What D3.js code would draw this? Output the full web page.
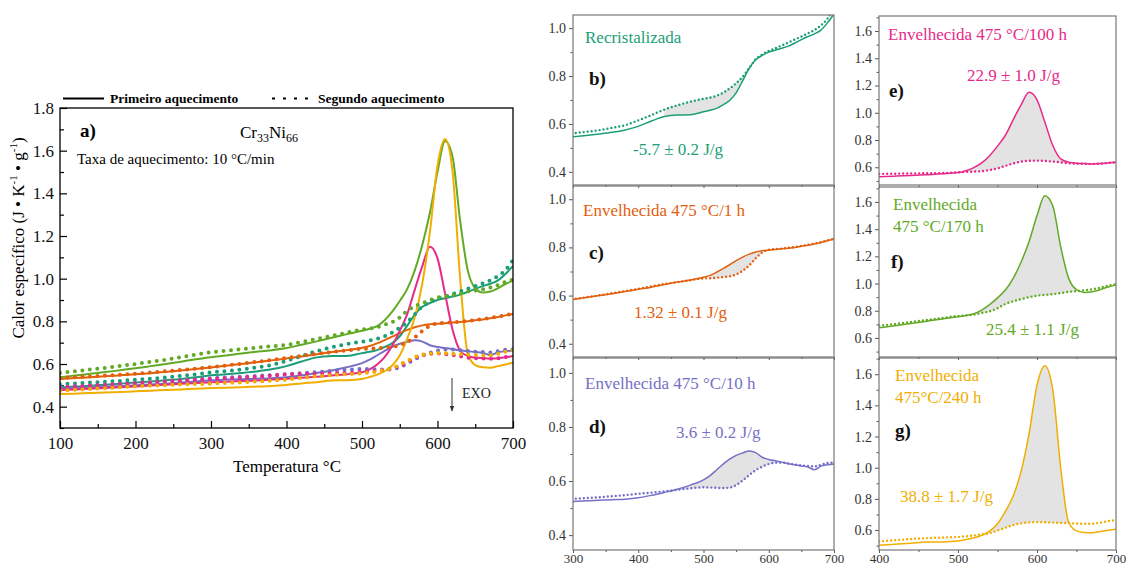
<!DOCTYPE html>
<html>
<head>
<meta charset="utf-8">
<script src="https://cdn.jsdelivr.net/npm/d3@7"></script>
<style>
  body { margin: 0; background: #fff; }
  svg { display: block; }
  text { font-family: "Liberation Serif", "Times New Roman", serif; }
</style>
</head>
<body>
<svg id="chart" width="1129" height="567"></svg>
<script>
// Temperature grid (°C) shared by every DSC trace
const temps = [100,120,140,160,180,200,220,240,260,280,300,320,340,360,380,400,420,440,460,480,
               500,510,520,530,540,550,560,570,580,590,600,610,620,630,640,650,660,670,680,690,700];

// Specific heat (J K^-1 g^-1): first heating (…1) and second heating (…2) for each condition
const recrist1 = [0.490,0.494,0.498,0.503,0.508,0.513,0.518,0.524,0.530,0.538,0.547,0.552,0.558,0.565,0.575,0.590,0.612,0.631,0.637,0.638,
                  0.651,0.657,0.665,0.680,0.698,0.730,0.780,0.832,0.868,0.886,0.900,0.908,0.916,0.925,0.938,0.952,0.965,0.976,0.992,1.022,1.060];
const recrist2 = [0.505,0.509,0.513,0.517,0.521,0.526,0.531,0.537,0.544,0.552,0.561,0.567,0.574,0.584,0.595,0.615,0.637,0.660,0.678,0.693,
                  0.705,0.710,0.718,0.730,0.748,0.770,0.797,0.833,0.870,0.890,0.905,0.916,0.928,0.940,0.953,0.965,0.978,0.992,1.012,1.040,1.088];
const aged1h1 = [0.530,0.534,0.538,0.542,0.547,0.552,0.557,0.563,0.569,0.576,0.584,0.592,0.600,0.608,0.617,0.626,0.635,0.646,0.656,0.665,
                 0.676,0.684,0.697,0.712,0.728,0.745,0.760,0.772,0.781,0.786,0.789,0.791,0.794,0.797,0.800,0.805,0.809,0.814,0.820,0.828,0.835];
const aged1h2 = [0.535,0.538,0.542,0.546,0.550,0.555,0.560,0.566,0.572,0.578,0.585,0.593,0.601,0.610,0.619,0.628,0.638,0.648,0.656,0.664,
                 0.671,0.672,0.674,0.677,0.680,0.688,0.703,0.725,0.755,0.779,0.790,0.793,0.795,0.798,0.802,0.806,0.811,0.816,0.822,0.829,0.836];
const aged10h1 = [0.484,0.487,0.490,0.493,0.497,0.500,0.504,0.508,0.513,0.518,0.524,0.527,0.529,0.531,0.533,0.538,0.547,0.558,0.570,0.585,
                  0.604,0.620,0.641,0.662,0.681,0.695,0.704,0.711,0.705,0.688,0.680,0.675,0.670,0.664,0.660,0.656,0.652,0.642,0.655,0.660,0.663];
const aged10h2 = [0.494,0.497,0.500,0.503,0.507,0.510,0.514,0.518,0.523,0.528,0.534,0.537,0.540,0.544,0.548,0.553,0.557,0.562,0.568,0.573,
                  0.577,0.576,0.575,0.574,0.576,0.585,0.602,0.622,0.640,0.653,0.663,0.668,0.668,0.665,0.661,0.658,0.656,0.654,0.660,0.667,0.668];
const aged100h1 = [0.478,0.481,0.484,0.487,0.491,0.495,0.499,0.503,0.507,0.511,0.515,0.517,0.520,0.523,0.527,0.531,0.535,0.540,0.546,0.552,
                   0.561,0.575,0.598,0.632,0.685,0.755,0.835,0.950,1.060,1.150,1.095,0.930,0.760,0.662,0.638,0.630,0.627,0.625,0.627,0.632,0.637];
const aged100h2 = [0.490,0.494,0.498,0.502,0.506,0.510,0.514,0.518,0.522,0.526,0.530,0.533,0.536,0.540,0.545,0.551,0.553,0.555,0.556,0.558,
                   0.563,0.566,0.568,0.572,0.580,0.592,0.610,0.628,0.642,0.648,0.649,0.646,0.642,0.636,0.630,0.627,0.626,0.625,0.627,0.632,0.637];
const aged170h1 = [0.538,0.546,0.554,0.562,0.571,0.580,0.590,0.600,0.611,0.622,0.632,0.640,0.649,0.657,0.665,0.675,0.690,0.706,0.723,0.740,
                   0.756,0.765,0.778,0.805,0.845,0.895,0.952,1.040,1.160,1.310,1.500,1.645,1.570,1.270,1.040,0.955,0.935,0.940,0.955,0.975,0.990];
const aged170h2 = [0.558,0.566,0.574,0.582,0.591,0.600,0.610,0.620,0.632,0.644,0.655,0.662,0.669,0.676,0.683,0.690,0.703,0.717,0.732,0.747,
                   0.762,0.766,0.772,0.784,0.796,0.818,0.850,0.870,0.885,0.900,0.911,0.917,0.922,0.930,0.939,0.944,0.950,0.958,0.970,0.985,0.995];
const aged240h1 = [0.459,0.461,0.464,0.466,0.469,0.472,0.475,0.478,0.481,0.484,0.487,0.489,0.491,0.494,0.497,0.502,0.509,0.515,0.523,0.524,
                   0.530,0.539,0.550,0.566,0.593,0.640,0.720,0.820,0.980,1.220,1.530,1.655,1.500,1.000,0.650,0.595,0.585,0.583,0.590,0.598,0.606];
const aged240h2 = [0.475,0.479,0.483,0.487,0.491,0.495,0.498,0.501,0.504,0.506,0.508,0.511,0.514,0.518,0.522,0.527,0.535,0.542,0.548,0.552,
                   0.556,0.560,0.565,0.572,0.580,0.597,0.615,0.632,0.644,0.649,0.651,0.650,0.648,0.646,0.644,0.642,0.640,0.641,0.648,0.657,0.663];

// Condition labels, enthalpy labels and integration windows (°C)
const conditionLabels = [["Recristalizada"], ["Envelhecida 475 °C/1 h"], ["Envelhecida 475 °C/10 h"],
                         ["Envelhecida 475 °C/100 h"], ["Envelhecida", "475 °C/170 h"], ["Envelhecida", "475°C/240 h"]];
const enthalpyLabels = ["-5.7 ± 0.2 J/g", "1.32 ± 0.1 J/g", "3.6 ± 0.2 J/g", "22.9 ± 1.0 J/g", "25.4 ± 1.1 J/g", "38.8 ± 1.7 J/g"];
const panelLetters = ["b)", "c)", "d)", "e)", "f)", "g)"];
const peakWindows = [[430, 575], [505, 590], [460, 610], [505, 650], [460, 655], [525, 640]];
const colors = ["#1b9e77", "#e2600c", "#7570c6", "#e7298a", "#62a925", "#f0ae00"];

const firstHeating = [recrist1, aged1h1, aged10h1, aged100h1, aged170h1, aged240h1];
const secondHeating = [recrist2, aged1h2, aged10h2, aged100h2, aged170h2, aged240h2];

const series = colors.map((c, i) => ({
  color: c,
  first: temps.map((t, k) => ({ t, v: firstHeating[i][k] })),
  second: temps.map((t, k) => ({ t, v: secondHeating[i][k] }))
}));

const svg = d3.select("#chart");
const SERIF = '"Liberation Serif", "Times New Roman", serif';

// ---------- Panel a: all traces ----------
const A = { left: 60, right: 513, top: 108, bottom: 428 };
const xA = d3.scaleLinear().domain([100, 700]).range([A.left, A.right]);
const yA = d3.scaleLinear().domain([0.3, 1.8]).range([A.bottom, A.top]);

const gA = svg.append("g");
gA.append("clipPath").attr("id", "clipA").append("rect")
  .attr("x", A.left).attr("y", A.top).attr("width", A.right - A.left).attr("height", A.bottom - A.top);

// inward ticks
const axBotMinor = d3.axisBottom(xA).tickValues(d3.range(150, 700, 100)).tickSize(-4).tickFormat("");
const axBotMajor = d3.axisBottom(xA).tickValues(d3.range(100, 701, 100)).tickSize(-7).tickPadding(9).tickFormat(d3.format("d"));
const axLeftMinor = d3.axisLeft(yA).tickValues(d3.range(0.3, 1.75, 0.2)).tickSize(-4).tickFormat("");
const axLeftMajor = d3.axisLeft(yA).tickValues(d3.range(0.4, 1.81, 0.2)).tickSize(-7).tickPadding(6).tickFormat(d3.format(".1f"));

[axBotMinor, axBotMajor].forEach(ax => {
  const g = gA.append("g").attr("transform", `translate(0,${A.bottom})`).call(ax);
  g.select(".domain").remove();
  g.selectAll("line").attr("stroke", "#000").attr("stroke-width", 1.2);
  g.selectAll("text").attr("font-size", 17).attr("font-family", SERIF).attr("fill", "#111");
});
[axLeftMinor, axLeftMajor].forEach(ax => {
  const g = gA.append("g").attr("transform", `translate(${A.left},0)`).call(ax);
  g.select(".domain").remove();
  g.selectAll("line").attr("stroke", "#000").attr("stroke-width", 1.2);
  g.selectAll("text").attr("font-size", 17).attr("font-family", SERIF).attr("fill", "#111");
});

const lineA = d3.line().x(d => xA(d.t)).y(d => yA(d.v)).curve(d3.curveMonotoneX);
const tracesA = gA.append("g").attr("clip-path", "url(#clipA)");
series.forEach(s => {
  tracesA.append("path").datum(s.first).attr("d", lineA)
    .attr("fill", "none").attr("stroke", s.color).attr("stroke-width", 2);
});
series.forEach(s => {
  tracesA.append("path").datum(s.second).attr("d", lineA)
    .attr("fill", "none").attr("stroke", s.color).attr("stroke-width", 4)
    .attr("stroke-linecap", "round").attr("stroke-dasharray", "0,7.5");
});

gA.append("rect").attr("x", A.left).attr("y", A.top)
  .attr("width", A.right - A.left).attr("height", A.bottom - A.top)
  .attr("fill", "none").attr("stroke", "#000").attr("stroke-width", 1.3);

// legend
gA.append("line").attr("x1", 63).attr("x2", 104).attr("y1", 98.5).attr("y2", 98.5)
  .attr("stroke", "#000").attr("stroke-width", 2);
gA.append("text").attr("x", 110).attr("y", 103).attr("font-size", 13.5).attr("font-weight", "bold")
  .text("Primeiro aquecimento");
gA.append("line").attr("x1", 272).attr("x2", 312).attr("y1", 98.5).attr("y2", 98.5)
  .attr("stroke", "#000").attr("stroke-width", 2.2).attr("stroke-dasharray", "3,8");
gA.append("text").attr("x", 318).attr("y", 103).attr("font-size", 13.5).attr("font-weight", "bold")
  .text("Segundo aquecimento");

// annotations
gA.append("text").attr("x", 80).attr("y", 137).attr("font-size", 19).attr("font-weight", "bold").text("a)");
const cr = gA.append("text").attr("x", 240).attr("y", 138).attr("font-size", 17);
cr.append("tspan").text("Cr");
cr.append("tspan").attr("font-size", 12).attr("dy", 4).text("33");
cr.append("tspan").attr("dy", -4).text("Ni");
cr.append("tspan").attr("font-size", 12).attr("dy", 4).text("66");
gA.append("text").attr("x", 77).attr("y", 164).attr("font-size", 15).text("Taxa de aquecimento: 10 °C/min");

// EXO arrow
const defs = svg.append("defs");
defs.append("marker").attr("id", "arrowHead").attr("viewBox", "0 0 10 10")
  .attr("refX", 9).attr("refY", 5).attr("markerWidth", 6).attr("markerHeight", 7)
  .attr("orient", "auto").append("path").attr("d", "M0,1 L10,5 L0,9 Z").attr("fill", "#333");
gA.append("line").attr("x1", 452).attr("x2", 452).attr("y1", 378).attr("y2", 411)
  .attr("stroke", "#333").attr("stroke-width", 1).attr("marker-end", "url(#arrowHead)");
gA.append("text").attr("x", 462).attr("y", 398).attr("font-size", 14).attr("fill", "#222").text("EXO");

// axis titles
gA.append("text").attr("x", 287).attr("y", 472).attr("text-anchor", "middle").attr("font-size", 17)
  .text("Temperatura °C");
const yt = gA.append("text").attr("transform", "translate(24,238) rotate(-90)")
  .attr("text-anchor", "middle").attr("font-size", 17);
yt.append("tspan").text("Calor específico (J • K");
yt.append("tspan").attr("font-size", 11).attr("dy", -7).text("-1");
yt.append("tspan").attr("dy", 7).text(" • g");
yt.append("tspan").attr("font-size", 11).attr("dy", -7).text("-1");
yt.append("tspan").attr("dy", 7).text(")");

// ---------- Panels b–g: individual conditions with shaded peak ----------
const panels = [
  { x0: 573, x1: 834, y0: 15,  y1: 185, xd: [300, 700], yd: [0.345, 1.055], yt: [0.4, 0.6, 0.8, 1.0], xlab: false,
    name: [585, 43], letter: [589, 85], enth: [633, 155] },
  { x0: 573, x1: 834, y0: 186, y1: 357, xd: [300, 700], yd: [0.345, 1.055], yt: [0.4, 0.6, 0.8, 1.0], xlab: false,
    name: [583, 216], letter: [589, 259], enth: [634, 318] },
  { x0: 573, x1: 834, y0: 358, y1: 550, xd: [300, 700], yd: [0.345, 1.055], yt: [0.4, 0.6, 0.8, 1.0], xlab: true,
    name: [585, 389], letter: [589, 433], enth: [676, 438] },
  { x0: 879, x1: 1116, y0: 16, y1: 185, xd: [400, 700], yd: [0.47, 1.71], yt: [0.6, 0.8, 1.0, 1.2, 1.4, 1.6], xlab: false,
    name: [888, 40], letter: [889, 97], enth: [967, 81] },
  { x0: 879, x1: 1116, y0: 187, y1: 357, xd: [400, 700], yd: [0.46, 1.71], yt: [0.6, 0.8, 1.0, 1.2, 1.4, 1.6], xlab: false,
    name: [893, 210], letter: [891, 268], enth: [986, 335] },
  { x0: 879, x1: 1116, y0: 358, y1: 550, xd: [400, 700], yd: [0.472, 1.704], yt: [0.6, 0.8, 1.0, 1.2, 1.4, 1.6], xlab: true,
    name: [895, 381], letter: [895, 437], enth: [900, 502] }
];

panels.forEach((p, i) => {
  const s = series[i];
  const g = svg.append("g");
  const x = d3.scaleLinear().domain(p.xd).range([p.x0, p.x1]);
  const y = d3.scaleLinear().domain(p.yd).range([p.y1, p.y0]);
  const clipId = "clip" + i;
  g.append("clipPath").attr("id", clipId).append("rect")
    .attr("x", p.x0).attr("y", p.y0).attr("width", p.x1 - p.x0).attr("height", p.y1 - p.y0);

  // shaded area between first and second heating inside the integration window
  const win = peakWindows[i];
  const band = temps.map((t, k) => ({ t, a: firstHeating[i][k], b: secondHeating[i][k] }))
    .filter(d => d.t >= win[0] && d.t <= win[1]);
  const area = d3.area().x(d => x(d.t)).y0(d => y(d.b)).y1(d => y(d.a)).curve(d3.curveMonotoneX);
  const plot = g.append("g").attr("clip-path", `url(#${clipId})`);
  plot.append("path").datum(band).attr("d", area).attr("fill", "#e3e3e3");

  const line = d3.line().x(d => x(d.t)).y(d => y(d.v)).curve(d3.curveMonotoneX);
  const inRange = d => d.t >= p.xd[0] - 20;
  plot.append("path").datum(s.second.filter(inRange)).attr("d", line)
    .attr("fill", "none").attr("stroke", s.color).attr("stroke-width", 2.4)
    .attr("stroke-linecap", "round").attr("stroke-dasharray", "0,4");
  plot.append("path").datum(s.first.filter(inRange)).attr("d", line)
    .attr("fill", "none").attr("stroke", s.color).attr("stroke-width", 1.5);

  // axes (outward ticks)
  const yMinor = d3.range(p.yt[0] - 0.1, p.yd[1], 0.2).filter(v => v > p.yd[0] && v < p.yd[1]);
  const axL = d3.axisLeft(y).tickValues(p.yt).tickSize(4).tickPadding(3).tickFormat(d3.format(".1f"));
  const axLm = d3.axisLeft(y).tickValues(yMinor).tickSize(2.5).tickFormat("");
  [axLm, axL].forEach(ax => {
    const ga = g.append("g").attr("transform", `translate(${p.x0},0)`).call(ax);
    ga.select(".domain").remove();
    ga.selectAll("line").attr("stroke", "#555");
    ga.selectAll("text").attr("font-size", 14).attr("font-family", SERIF).attr("fill", "#333");
  });
  const xMaj = d3.range(p.xd[0], p.xd[1] + 1, 100);
  const xMin = d3.range(p.xd[0] + 50, p.xd[1], 100);
  const axB = d3.axisBottom(x).tickValues(xMaj).tickSize(3).tickPadding(1)
    .tickFormat(p.xlab ? d3.format("d") : "");
  const axBm = d3.axisBottom(x).tickValues(xMin).tickSize(2).tickFormat("");
  [axBm, axB].forEach(ax => {
    const ga = g.append("g").attr("transform", `translate(0,${p.y1})`).call(ax);
    ga.select(".domain").remove();
    ga.selectAll("line").attr("stroke", "#555");
    ga.selectAll("text").attr("font-size", 13).attr("font-family", SERIF).attr("fill", "#333");
  });

  g.append("rect").attr("x", p.x0).attr("y", p.y0).attr("width", p.x1 - p.x0).attr("height", p.y1 - p.y0)
    .attr("fill", "none").attr("stroke", "#777").attr("stroke-width", 1.2);

  // labels
  const nm = g.append("text").attr("x", p.name[0]).attr("y", p.name[1]).attr("font-size", 17).attr("fill", s.color);
  conditionLabels[i].forEach((ln, j) => {
    nm.append("tspan").attr("x", p.name[0]).attr("dy", j === 0 ? 0 : 22).text(ln);
  });
  g.append("text").attr("x", p.letter[0]).attr("y", p.letter[1]).attr("font-size", 19)
    .attr("font-weight", "bold").attr("fill", "#111").text(panelLetters[i]);
  g.append("text").attr("x", p.enth[0]).attr("y", p.enth[1]).attr("font-size", 17)
    .attr("fill", s.color).text(enthalpyLabels[i]);
});
</script>
</body>
</html>
